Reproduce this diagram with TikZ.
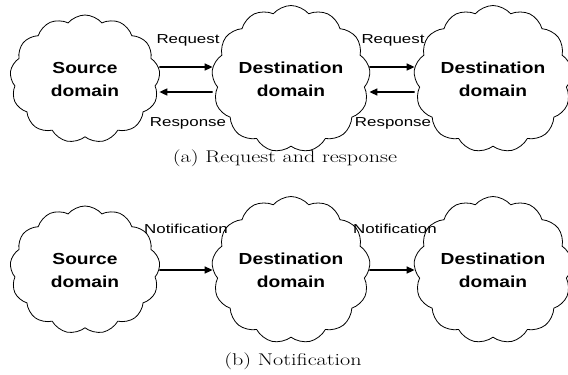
\documentclass[tikz,border=0pt]{standalone}
\usepackage{fontspec}
\setmainfont{Latin Modern Roman}[FakeStretch=1.3]
\newfontfamily\domainfont{Liberation Sans}[FakeStretch=1.2]
\newfontfamily\labelfont{Liberation Sans}[FakeStretch=1.3]
\usetikzlibrary{shapes.symbols,arrows.meta}
\begin{document}
\begin{tikzpicture}[x=1pt,y=-1pt,
  domain/.style={cloud, draw, line width=0.8pt, cloud puffs=13, cloud puff arc=100,
    aspect=1.1, inner sep=0pt, minimum width=#1, minimum height=128pt,
    align=center, font=\domainfont\bfseries\fontsize{16}{23}\selectfont},
  domain/.default=150pt,
  msg/.style={line width=1.6pt, -{Triangle[length=8pt,width=7pt]}},
  msglabel/.style={inner sep=0pt, font=\labelfont\fontsize{13}{15}\selectfont},
  caption/.style={inner sep=0pt, font=\fontsize{17}{19}\selectfont}]
\useasboundingbox (0,0) rectangle (568,375);

% (a) request and response
\node[domain] (s1) at (85,79) {Source\\domain};
\node[domain=147pt] (d1) at (291,79) {Destination\\domain};
\node[domain=142pt] (e1) at (493,79) {Destination\\domain};

\draw[msg] ([yshift=12pt]s1.east) -- ([yshift=12pt]d1.west);
\draw[msg] ([yshift=-13pt]d1.west) -- ([yshift=-13pt]s1.east);
\draw[msg] ([yshift=12pt]d1.east) -- ([yshift=12pt]e1.west);
\draw[msg] ([yshift=-13pt]e1.west) -- ([yshift=-13pt]d1.east);

\node[msglabel] (rq1) at (188,40) {Request};
\node[msglabel] (rs1) at (188,123) {Response};
\node[msglabel] (rq2) at (393,40) {Request};
\node[msglabel] (rs2) at (393,123) {Response};

\node[caption] (capa) at (285,158) {(a) Request and response};

% (b) notification
\node[domain] (s2) at (85,270) {Source\\domain};
\node[domain=147pt] (d2) at (291,270) {Destination\\domain};
\node[domain=142pt] (e2) at (493,270) {Destination\\domain};

\draw[msg] (s2.east) -- (d2.west);
\draw[msg] (d2.east) -- (e2.west);

\node[msglabel] (n1) at (186,229) {Notification};
\node[msglabel] (n2) at (395,229) {Notification};

\node[caption] (capb) at (293,361) {(b) Notification};
\end{tikzpicture}
\end{document}
